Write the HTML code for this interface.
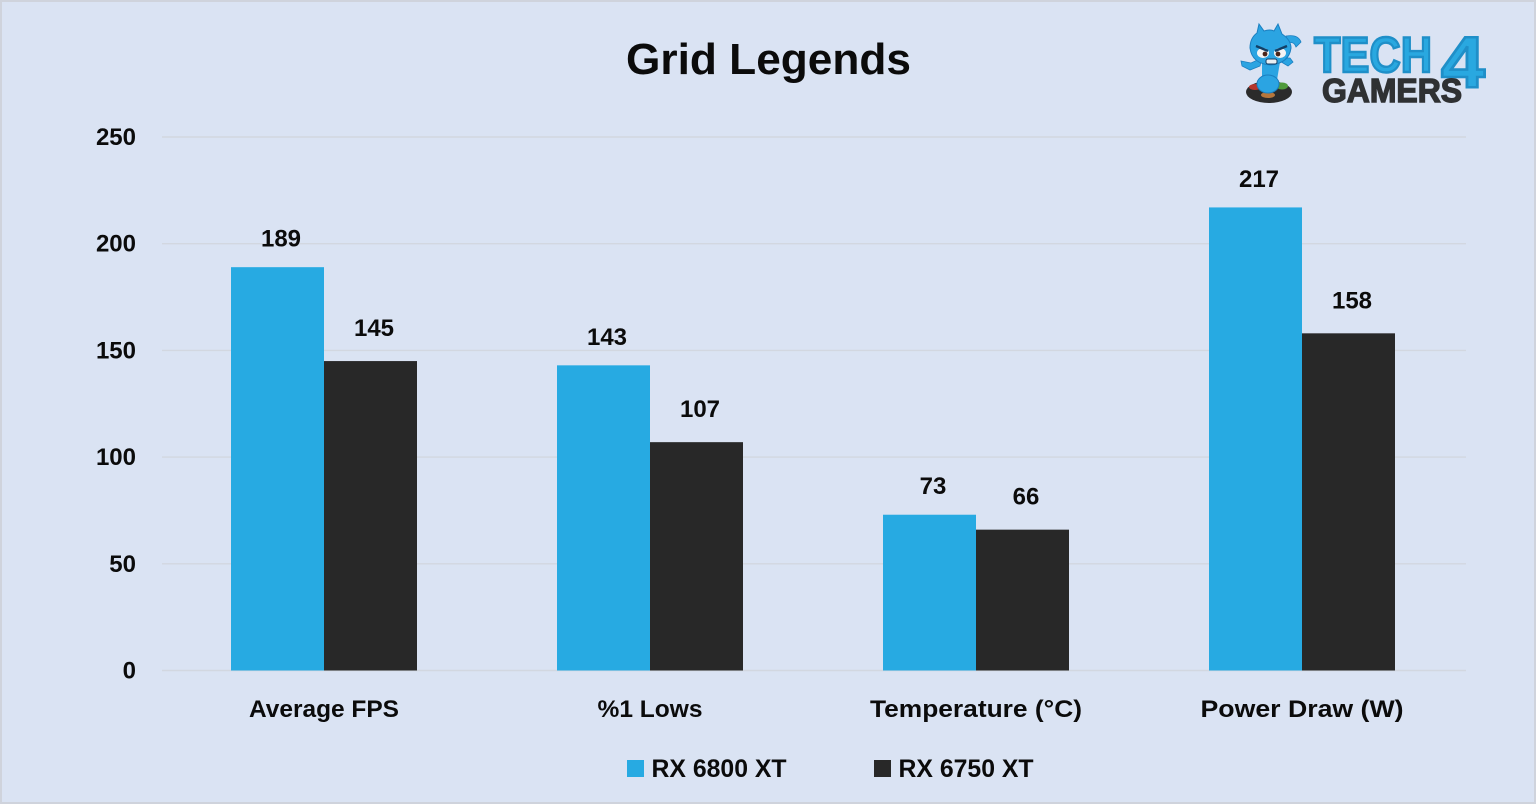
<!DOCTYPE html>
<html>
<head>
<meta charset="utf-8">
<title>Grid Legends</title>
<style>
html,body{margin:0;padding:0;background:#dae3f3;}
svg{display:block;}
text{font-family:"Liberation Sans",sans-serif;font-weight:700;fill:#0b0b0b;}
</style>
</head>
<body>
<svg id="chart" xmlns="http://www.w3.org/2000/svg" width="1536" height="804" viewBox="0 0 1536 804">
  <rect x="1" y="1" width="1534" height="802" fill="#dae3f3" stroke="#cfd3dc" stroke-width="2"/>
  <text x="768.5" y="74" text-anchor="middle" font-size="44" textLength="285" lengthAdjust="spacingAndGlyphs">Grid Legends</text>
  <g id="grid"></g>
  <g id="yticks"></g>
  <g id="bars"></g>
  <g id="values"></g>
  <g id="xticks"></g>
  <g id="legend"></g>

  <g>
    <g>
      <ellipse cx="1269" cy="92" rx="23" ry="11" fill="#2b2b2b"/>
      <ellipse cx="1255" cy="87" rx="6" ry="3" fill="#b5352c"/>
      <ellipse cx="1282" cy="86" rx="6" ry="3.5" fill="#4f9a3c"/>
      <ellipse cx="1268" cy="95" rx="7" ry="3" fill="#b5763c"/>
      <path d="M1260 66 L1250 70 L1242 66 L1241 61 L1251 63 L1262 58 Z" fill="#2ba4e2" stroke="#1b7fc0" stroke-width=".8"/>
      <path d="M1278 60 L1288 66 L1293 62 L1290 58 L1284 58 Z" fill="#2ba4e2" stroke="#1b7fc0" stroke-width=".8"/>
      <path d="M1286 36 Q1298 34 1301 42 L1296 47 Q1294 41 1288 43 Z" fill="#2ba4e2" stroke="#1b7fc0" stroke-width=".8"/>
      <path d="M1262 62 L1280 62 L1277 80 L1262 80 Z" fill="#2ba4e2"/>
      <path d="M1259 24 L1264 31 Q1270 29 1274 31 L1278 24 L1282 34 Q1291 40 1291 48 Q1289 63 1271 65 Q1252 64 1250 48 Q1250 38 1257 33 Z" fill="#2ba4e2" stroke="#1b7fc0" stroke-width="1"/>
      <ellipse cx="1268" cy="84" rx="11" ry="9" fill="#2ba4e2" stroke="#1b7fc0" stroke-width="1"/>
      <ellipse cx="1263" cy="53" rx="6" ry="5" fill="#f4f4f4"/>
      <ellipse cx="1280" cy="53" rx="6" ry="5" fill="#f4f4f4"/>
      <circle cx="1265" cy="54" r="2.4" fill="#4a2418"/>
      <circle cx="1278" cy="54" r="2.4" fill="#4a2418"/>
      <path d="M1256 46 L1268 51 M1287 46 L1275 51" stroke="#123f66" stroke-width="2.4"/>
      <rect x="1266" y="59" width="11" height="5" rx="2" fill="#e8eef2" stroke="#123f66" stroke-width="1"/>
    </g>
    <text x="1314" y="72" font-size="50" textLength="118" lengthAdjust="spacingAndGlyphs" style="fill:#29a8e0;stroke:#1f8fc8;stroke-width:2.4">TECH</text>
    <text x="1441" y="87" font-size="72" textLength="44" lengthAdjust="spacingAndGlyphs" style="fill:#29a8e0;stroke:#1f8fc8;stroke-width:2.6">4</text>
    <text x="1322" y="102" font-size="33" textLength="140" lengthAdjust="spacingAndGlyphs" style="fill:#2f3133;stroke:#2f3133;stroke-width:1.4">GAMERS</text>
  </g>
</svg>

<script>
const categories = ["Average FPS", "%1 Lows", "Temperature (°C)", "Power Draw (W)"];
const seriesNames = ["RX 6800 XT", "RX 6750 XT"];
const rx6800xt = [189, 143, 73, 217];
const rx6750xt = [145, 107, 66, 158];
const yTicks = [0, 50, 100, 150, 200, 250];

const NS = "http://www.w3.org/2000/svg";
const plot = {left: 161, right: 1465, top: 137, bottom: 670.5};
const gridX = {left: 162, right: 1466};
const yMax = 250;
const barWidth = 93;
const colors = ["#27aae2", "#282828"];
const valueLabelDx = 3.5;
const valueLabelDy = [20.5, 25];
const categoryLabelWidths = [150, 105, 212, 203];

function yScale(v) {
  return plot.bottom - (v / yMax) * (plot.bottom - plot.top);
}
function xCenter(i) {
  return plot.left + (plot.right - plot.left) * (i + 0.5) / categories.length;
}
function make(tag, attrs, parent, content) {
  const el = document.createElementNS(NS, tag);
  for (const k in attrs) el.setAttribute(k, attrs[k]);
  if (content !== undefined) el.textContent = content;
  parent.appendChild(el);
  return el;
}

const gridG = document.getElementById("grid");
const ytG = document.getElementById("yticks");
yTicks.forEach(function (t) {
  const line = make("line", {x1: gridX.left, x2: gridX.right, y1: yScale(t), y2: yScale(t), stroke: "#d2d7e0", "stroke-width": 1.4}, gridG);
  
  
  const label = make("text", {x: 136, y: yScale(t) + 8, "text-anchor": "end", "font-size": 24}, ytG, String(t));
  
  
});

const barsG = document.getElementById("bars");
const valuesG = document.getElementById("values");
[rx6800xt, rx6750xt].forEach(function (series, s) {
  series.forEach(function (v, i) {
    const x = xCenter(i) - barWidth + s * barWidth;
    const bar = make("rect", {x: x, y: yScale(v), width: barWidth, height: plot.bottom - yScale(v), fill: colors[s]}, barsG);
    
    
    const val = make("text", {x: x + barWidth / 2 + valueLabelDx, y: yScale(v) - valueLabelDy[s], "text-anchor": "middle", "font-size": 24}, valuesG, String(v));
    
    
  });
});

const xtG = document.getElementById("xticks");
categories.forEach(function (c, i) {
  const label = make("text", {x: xCenter(i), y: 717, "text-anchor": "middle", "font-size": 24.5, textLength: categoryLabelWidths[i], lengthAdjust: "spacingAndGlyphs"}, xtG, c);
  
  
});

const legendG = document.getElementById("legend");
const legendSwatchX = [627, 874];
seriesNames.forEach(function (name, s) {
  const swatch = make("rect", {x: legendSwatchX[s], y: 760, width: 17, height: 17, fill: colors[s]}, legendG);
  
  
  const label = make("text", {x: legendSwatchX[s] + 24.5, y: 777, "font-size": 24.8}, legendG, name);
  
  
});
</script>
</body>
</html>
